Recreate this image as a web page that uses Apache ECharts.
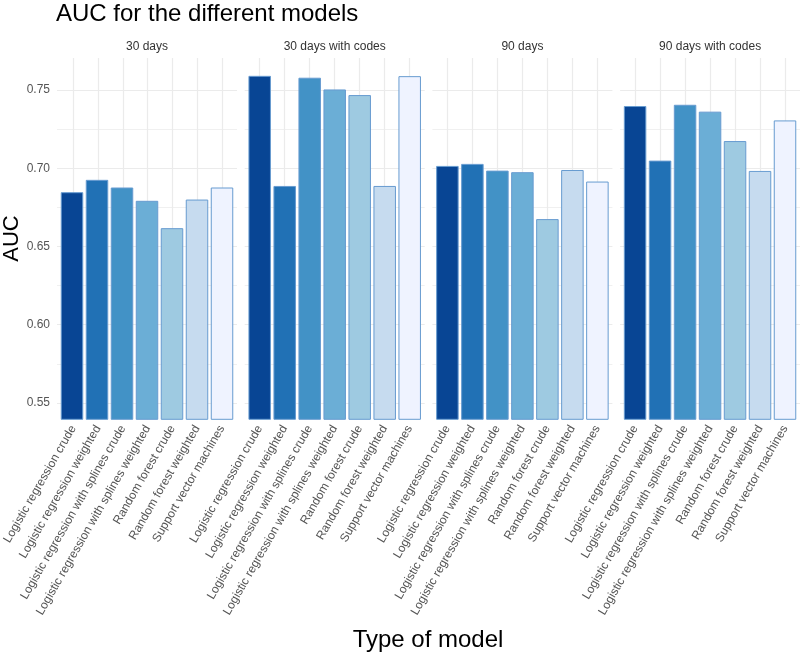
<!DOCTYPE html>
<html>
<head>
<meta charset="utf-8">
<script src="https://cdn.jsdelivr.net/npm/echarts@6/dist/echarts.min.js"></script>
<style>html,body{margin:0;padding:0;background:#fff}#c{width:800px;height:654px}</style>
</head>
<body>
<div id="c"></div>
<script>
const panels = ['30 days', '30 days with codes', '90 days', '90 days with codes'];
const models = ['Logistic regression crude', 'Logistic regression weighted', 'Logistic regression with splines crude',
  'Logistic regression with splines weighted', 'Random forest crude', 'Random forest weighted', 'Support vector machines'];
const auc30 = [0.6847, 0.6926, 0.6877, 0.6792, 0.6617, 0.6800, 0.6877];
const auc30codes = [0.7591, 0.6887, 0.7579, 0.7504, 0.7468, 0.6887, 0.7589];
const auc90 = [0.7015, 0.7028, 0.6985, 0.6975, 0.6675, 0.6989, 0.6915];
const auc90codes = [0.7398, 0.7049, 0.7406, 0.7362, 0.7174, 0.6983, 0.7306];
const panelValues = [auc30, auc30codes, auc90, auc90codes];
const yTickMin = 0.55, yTickMax = 0.75, yTickStep = 0.05;
const yLimMin = 0.55, yLimMax = 0.76;
const palette = ['#084594', '#2171B5', '#4292C6', '#6BAED6', '#9ECAE1', '#C6DBEF', '#EFF3FF'];

const FONT = 'Liberation Sans, Arial, Helvetica, sans-serif';
const expand = (yLimMax - yLimMin) * 0.05;
const yMin = yLimMin - expand, yMax = yLimMax + expand;

// layout (pixels)
const panelLeft0 = 57, panelStep = 187.7, panelW = 180;
const plotTop = 58, plotBottom = 419.3;
const pxPerUnit = (plotBottom - plotTop) / (yMax - yMin);
const tickTop = plotTop + (yMax - yTickMax) * pxPerUnit;
const tickH = (yTickMax - yTickMin) * pxPerUnit;
const unit = panelW / 7.2;

const grids = [], xAxes = [], yAxes = [], series = [], titles = [];
titles.push({text: 'AUC for the different models', left: 56, top: 2, padding: 0,
  textStyle: {fontFamily: FONT, fontSize: 24, fontWeight: 'normal', color: '#000'}});

panels.forEach((p, i) => {
  const L = panelLeft0 + panelStep * i;
  // background grid: horizontal lines and y labels
  grids.push({left: L, width: panelW, top: tickTop, height: tickH});
  let g = grids.length - 1;
  xAxes.push({gridIndex: g, type: 'value', show: false, min: 0, max: 1});
  yAxes.push({gridIndex: g, type: 'value', min: yTickMin, max: yTickMax, interval: yTickStep,
    axisLine: {show: false}, axisTick: {show: false},
    axisLabel: {show: i === 0, margin: 7, color: '#555', fontFamily: FONT, fontSize: 12,
      formatter: v => v.toFixed(2)},
    splitLine: {show: true, lineStyle: {color: '#ebebeb', width: 1.2}},
    minorTick: {show: false, splitNumber: 2},
    minorSplitLine: {show: true, lineStyle: {color: '#f0f0f0', width: 1}}
  });
  // category grid: vertical lines and category labels
  grids.push({left: L + unit * 0.6, width: unit * 6, top: plotTop, height: plotBottom - plotTop});
  g = grids.length - 1;
  xAxes.push({gridIndex: g, type: 'category', data: models, boundaryGap: false,
    axisLine: {show: false}, axisTick: {show: false},
    splitLine: {show: true, lineStyle: {color: '#ebebeb', width: 1.2}},
    axisLabel: {show: true, interval: 0, rotate: 60, margin: 7, padding: [12, 0, 0, 0],
      color: '#555', fontFamily: FONT, fontSize: 12}
  });
  yAxes.push({gridIndex: g, type: 'value', min: yMin, max: yMax, show: false, splitLine: {show: false}});
  // bar grid: full panel width
  grids.push({left: L, width: panelW, top: plotTop, height: plotBottom - plotTop});
  g = grids.length - 1;
  xAxes.push({gridIndex: g, type: 'value', min: -0.6, max: 6.6, show: false, splitLine: {show: false}});
  yAxes.push({gridIndex: g, type: 'value', min: yMin, max: yMax, show: false, splitLine: {show: false}});
  series.push({type: 'bar', xAxisIndex: xAxes.length - 1, yAxisIndex: yAxes.length - 1,
    data: panelValues[i].map((v, k) => [k, v]), barWidth: unit * 0.9, clip: true,
    itemStyle: {color: params => palette[params.dataIndex], borderColor: '#679bd0', borderWidth: 1}
  });
  titles.push({text: p, left: L + panelW / 2, top: 41, textAlign: 'center', padding: 0,
    textStyle: {fontFamily: FONT, fontSize: 12, fontWeight: 'normal', color: '#333'}});
});

titles.push({text: 'Type of model', left: 428, top: 628, textAlign: 'center', padding: 0,
  textStyle: {fontFamily: FONT, fontSize: 24, fontWeight: 'normal', color: '#000'}});

const chart = echarts.init(document.getElementById('c'), null, {renderer: 'canvas'});
chart.setOption({
  animation: false,
  backgroundColor: '#fff',
  title: titles,
  grid: grids,
  xAxis: xAxes,
  yAxis: yAxes,
  series: series,
  graphic: [{type: 'text', x: 12, y: 238.5, rotation: Math.PI / 2,
    style: {text: 'AUC', fontFamily: FONT, fontSize: 22, fill: '#000', textAlign: 'center', textVerticalAlign: 'middle'}}]
});
</script>
</body>
</html>
